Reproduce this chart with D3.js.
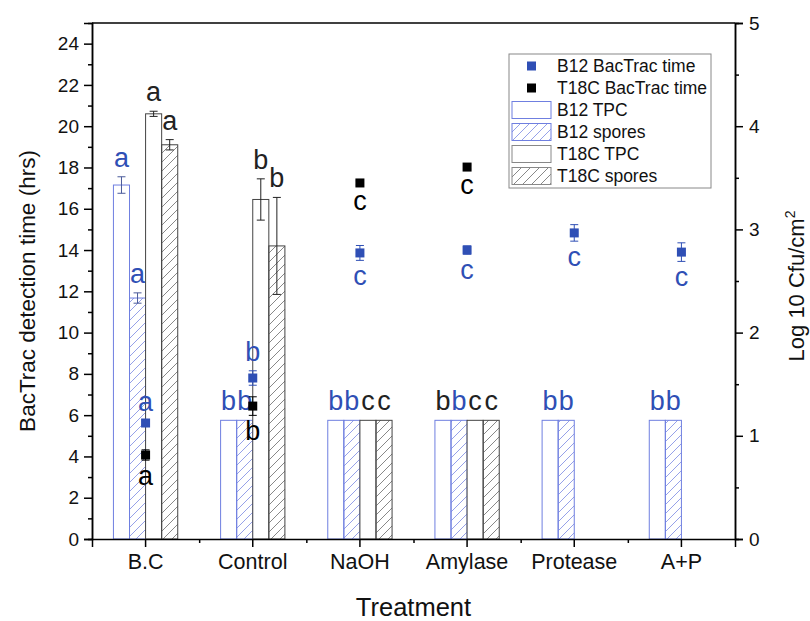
<!DOCTYPE html>
<html><head><meta charset="utf-8">
<script src="https://cdn.jsdelivr.net/npm/d3@7"></script>
<style>body{margin:0;background:#fff} text{font-family:"Liberation Sans",Arial,sans-serif}</style>
</head><body><svg id="c" width="810" height="621"></svg>
<script>
// ---------- data ----------
const categories = ["B.C", "Control", "NaOH", "Amylase", "Protease", "A+P"];
// Log10 CFU/cm2 (right axis)
const b12TPC        = [3.43, 1.15, 1.15, 1.15, 1.15, 1.15];
const b12TPCErr     = [0.08, 0, 0, 0, 0, 0];
const b12Spores     = [2.335, 1.15, 1.15, 1.15, 1.15, 1.15];
const b12SporesErr  = [0.05, 0, 0, 0, 0, 0];
const t18cTPC       = [4.12, 3.29, 1.15, 1.15, null, null];
const t18cTPCErr    = [0.025, 0.2, 0, 0, null, null];
const t18cSpores    = [3.82, 2.84, 1.15, 1.15, null, null];
const t18cSporesErr = [0.05, 0.47, 0, 0, null, null];
// BacTrac detection time, hrs (left axis)
const b12Time     = [5.62, 7.8, 13.86, 14.0, 14.83, 13.9];
const b12TimeErr  = [0.1, 0.35, 0.36, 0.2, 0.4, 0.45];
const t18cTime    = [4.07, 6.44, 17.25, 18.02, null, null];
const t18cTimeErr = [0.25, 0.45, 0.1, 0.1, null, null];
// significance letters
const b12TPCLetters     = ["a", "b", "b", "b", "b", "b"];
const b12SporesLetters  = ["a", "b", "b", "b", "b", "b"];
const t18cTPCLetters    = ["a", "b", "c", "c", null, null];
const t18cSporesLetters = ["a", "b", "c", "c", null, null];
const b12TimeLetters    = ["a", "b", "c", "c", "c", "c"];
const t18cTimeLetters   = ["a", "b", "c", "c", null, null];
// tick labels
const leftTicks  = [0, 2, 4, 6, 8, 10, 12, 14, 16, 18, 20, 22, 24];
const rightTicks = [0, 1, 2, 3, 4, 5];

// ---------- styles ----------
const BLUE = "#2f4fb5", BLUE_LINE = "#6f7fe0", BLUE_HATCH = "#8a96e6";
const DARK = "#222", GRAY_HATCH = "#7a7a7a";
const LETTER_FS = 27;

const svg = d3.select("#c");
const M = {l: 92, r: 735, t: 23, b: 539};
const x = d3.scaleBand().domain(categories).range([M.l, M.r]);
const yL = d3.scaleLinear().domain([0, 25]).range([M.b, M.t]);
const yR = d3.scaleLinear().domain([0, 5]).range([M.b, M.t]);

// patterns
const defs = svg.append("defs");
function hatch(id, color) {
  const p = defs.append("pattern").attr("id", id).attr("patternUnits", "userSpaceOnUse")
    .attr("width", 9).attr("height", 9);
  p.append("path").attr("d", "M-2,2 L2,-2 M0,9 L9,0 M7,11 L11,7")
    .attr("stroke", color).attr("stroke-width", 0.9);
}
hatch("hb", BLUE_HATCH);
hatch("hk", GRAY_HATCH);

const barSeries = [
  {key: "B12 TPC", v: b12TPC, e: b12TPCErr, L: b12TPCLetters, stroke: BLUE_LINE, fill: "#fff", tc: BLUE, ec: "#4a5a9a"},
  {key: "B12 spores", v: b12Spores, e: b12SporesErr, L: b12SporesLetters, stroke: BLUE_LINE, fill: "url(#hb)", tc: BLUE, ec: "#4a5a9a"},
  {key: "T18C TPC", v: t18cTPC, e: t18cTPCErr, L: t18cTPCLetters, stroke: "#444", fill: "#fff", tc: DARK, ec: DARK},
  {key: "T18C spores", v: t18cSpores, e: t18cSporesErr, L: t18cSporesLetters, stroke: "#444", fill: "url(#hk)", tc: DARK, ec: DARK}
];
const xSub = d3.scaleBand().domain(barSeries.map(s => s.key)).range([0, x.bandwidth() * 0.6]);
const off = x.bandwidth() * 0.2;

// bars
barSeries.forEach((s, si) => {
  const data = categories.map((c, i) => ({c, v: s.v[i], e: s.e[i], l: s.L[i], i})).filter(d => d.v != null);
  const g = svg.append("g");
  g.selectAll("rect").data(data).join("rect")
    .attr("x", d => x(d.c) + off + xSub(s.key))
    .attr("y", d => yR(d.v))
    .attr("width", xSub.bandwidth())
    .attr("height", d => yR(0) - yR(d.v))
    .attr("fill", s.fill).attr("stroke", s.stroke).attr("stroke-width", 1);
  const eb = data.filter(d => d.e > 0);
  const cx = d => x(d.c) + off + xSub(s.key) + xSub.bandwidth() / 2;
  g.selectAll("path.err").data(eb).join("path").attr("class", "err")
    .attr("d", d => {
      const x0 = cx(d), y1 = yR(d.v + d.e), y2 = yR(d.v - d.e);
      return `M${x0 - 4},${y1}H${x0 + 4}M${x0},${y1}V${y2}M${x0 - 4},${y2}H${x0 + 4}`;
    })
    .attr("stroke", s.ec).attr("stroke-width", 1).attr("fill", "none");
  g.selectAll("text").data(data.filter(d => d.l)).join("text")
    .attr("x", d => cx(d))
    .attr("y", d => yR(d.v + d.e) - 10)
    .attr("text-anchor", "middle").attr("font-size", LETTER_FS)
    .attr("fill", d => (si === 0 && d.c === "Amylase") ? DARK : s.tc)
    .text(d => d.l);
});

// markers
const markerSeries = [
  {key: "B12 BacTrac time", v: b12Time, e: b12TimeErr, L: b12TimeLetters, color: BLUE},
  {key: "T18C BacTrac time", v: t18cTime, e: t18cTimeErr, L: t18cTimeLetters, color: "#000"}
];
markerSeries.forEach((s, si) => {
  const data = categories.map((c, i) => ({c, v: s.v[i], e: s.e[i], l: s.L[i]})).filter(d => d.v != null);
  const g = svg.append("g");
  const cx = d => x(d.c) + x.bandwidth() / 2;
  g.selectAll("path").data(data).join("path")
    .attr("d", d => {
      const x0 = cx(d), y1 = yL(d.v + d.e), y2 = yL(d.v - d.e);
      return `M${x0 - 4},${y1}H${x0 + 4}M${x0},${y1}V${y2}M${x0 - 4},${y2}H${x0 + 4}`;
    })
    .attr("stroke", s.color).attr("stroke-width", 1).attr("fill", "none");
  g.selectAll("rect").data(data).join("rect")
    .attr("x", d => cx(d) - 4.5).attr("y", d => yL(d.v) - 4.5)
    .attr("width", 9).attr("height", 9).attr("fill", s.color);
  g.selectAll("text").data(data).join("text")
    .attr("x", d => cx(d))
    .attr("y", d => {
      const above = si === 0 && d.v < 10;
      return above ? yL(d.v + d.e) - 10 : yL(d.v - d.e) + 25;
    })
    .attr("text-anchor", "middle").attr("font-size", LETTER_FS).attr("fill", s.color)
    .text(d => d.l);
});

// axes
function styleAxis(g, fs) {
  g.selectAll(".domain").attr("stroke", "#000").attr("stroke-width", 1.5);
  g.selectAll(".tick line").attr("stroke", "#000").attr("stroke-width", 1.5);
  g.selectAll(".tick text").attr("font-size", fs).attr("fill", "#111")
    .attr("font-family", '"Liberation Sans",Arial,sans-serif');
}
const gl = svg.append("g").attr("transform", `translate(${M.l},0)`)
  .call(d3.axisLeft(yL).tickValues(leftTicks).tickSize(8).tickPadding(5).tickFormat(d3.format("d")));
styleAxis(gl, 19);
const glm = svg.append("g").attr("transform", `translate(${M.l},0)`)
  .call(d3.axisLeft(yL).tickValues(d3.range(1, 25, 2)).tickSize(4).tickFormat(""));
styleAxis(glm, 19);
const gr = svg.append("g").attr("transform", `translate(${M.r},0)`)
  .call(d3.axisRight(yR).tickValues(rightTicks).tickSize(8).tickPadding(6).tickFormat(d3.format("d")));
styleAxis(gr, 19);
const grm = svg.append("g").attr("transform", `translate(${M.r},0)`)
  .call(d3.axisRight(yR).tickValues([0.5, 1.5, 2.5, 3.5, 4.5]).tickSize(4).tickFormat(""));
styleAxis(grm, 19);
const gb = svg.append("g").attr("transform", `translate(0,${M.b})`)
  .call(d3.axisBottom(x).tickSize(8).tickPadding(7));
styleAxis(gb, 21.5);
const xm = d3.scaleLinear().domain([0, categories.length]).range([M.l, M.r]);
const gbm = svg.append("g").attr("transform", `translate(0,${M.b})`)
  .call(d3.axisBottom(xm).tickValues(d3.range(1, categories.length)).tickSize(4).tickFormat(""));
styleAxis(gbm, 20);
gbm.select(".domain").remove();
svg.append("line").attr("x1", M.l).attr("x2", M.r).attr("y1", M.t).attr("y2", M.t)
  .attr("stroke", "#000").attr("stroke-width", 1.5);

// titles
svg.append("text").attr("transform", `translate(35,${(M.t + M.b) / 2 + 10}) rotate(-90)`)
  .attr("text-anchor", "middle").attr("font-size", 22.5).attr("fill", "#111")
  .text("BacTrac detection time (hrs)");
svg.append("text").attr("x", (M.l + M.r) / 2).attr("y", 616)
  .attr("text-anchor", "middle").attr("font-size", 25.5).attr("fill", "#111").text("Treatment");
const rt = svg.append("text").attr("transform", `translate(804,${(M.t + M.b) / 2 + 5}) rotate(-90)`)
  .attr("text-anchor", "middle").attr("font-size", 22).attr("fill", "#111");
rt.append("tspan").text("Log 10 Cfu/cm");
rt.append("tspan").attr("font-size", 14).attr("dy", -9).text("2");

// legend
const lg = svg.append("g").attr("transform", "translate(509,54)");
lg.append("rect").attr("width", 202).attr("height", 134).attr("fill", "#fff")
  .attr("stroke", "#888").attr("stroke-width", 1);
const legendItems = [
  {t: "B12 BacTrac time", type: "m", c: BLUE},
  {t: "T18C BacTrac time", type: "m", c: "#000"},
  {t: "B12 TPC", type: "b", s: BLUE_LINE, f: "#fff"},
  {t: "B12 spores", type: "b", s: BLUE_LINE, f: "url(#hb)"},
  {t: "T18C TPC", type: "b", s: "#888", f: "#fff"},
  {t: "T18C spores", type: "b", s: "#888", f: "url(#hk)"}
];
legendItems.forEach((it, i) => {
  const cy = 12 + i * 22;
  if (it.type === "m") {
    lg.append("rect").attr("x", 18).attr("y", cy - 4.5).attr("width", 9).attr("height", 9).attr("fill", it.c);
  } else {
    lg.append("rect").attr("x", 3).attr("y", cy - 8.5).attr("width", 39).attr("height", 17)
      .attr("fill", it.f).attr("stroke", it.s).attr("stroke-width", 1);
  }
  lg.append("text").attr("x", 48).attr("y", cy + 6).attr("font-size", 17.5).attr("fill", "#111").text(it.t);
});
</script></body></html>
